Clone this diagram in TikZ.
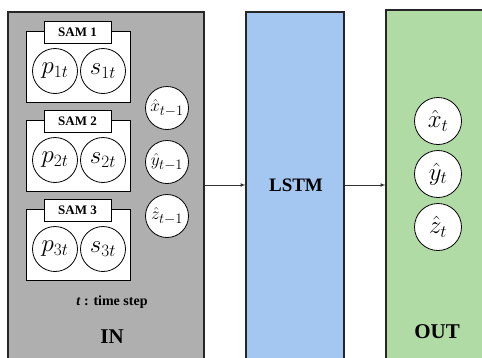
\documentclass[tikz,border=0pt]{standalone}
\usepackage{fontspec}
\setmainfont{Liberation Serif}
\usepackage{amsmath}
\usetikzlibrary{positioning}

\definecolor{ingray}{RGB}{175,175,175}
\definecolor{lstmblue}{RGB}{163,199,240}
\definecolor{outgreen}{RGB}{177,219,165}

\tikzset{
  block/.style={draw=black!85, line width=1.2pt, rectangle, inner sep=0pt},
  var/.style={draw, circle, fill=white, line width=0.8pt, inner sep=0pt, minimum size=45pt, font=\fontsize{26}{28}\selectfont},
  prev/.style={var, minimum size=43pt, font=\fontsize{19}{21}\selectfont},
  samtitle/.style={draw, fill=white, line width=0.8pt, minimum width=67pt, minimum height=22pt, inner sep=0pt, font=\fontsize{13}{15}\selectfont\bfseries},
  label/.style={font=\fontsize{21}{23}\selectfont\bfseries},
}

\begin{document}
\begin{tikzpicture}[x=1pt, y=-1pt]
    \newcommand{\drawsam}[1]{
        \begin{scope}[shift={(0,{(#1-1)*89})}]
            \node[draw, fill=white, line width=0.8pt, minimum width=104pt, minimum height=71pt] (sam#1) at (78,66.5) {};
            \node[samtitle] (sam#1title) at (77.5,32) {SAM #1};
            \node[var] (p#1) at (55,71) {$p_{#1t}$};
            \node[var] (s#1) at (103,71) {$s_{#1t}$};
        \end{scope}
    }
    \clip (0,0) rectangle (482,357);

    % the three stages, running out past the bottom edge
    \node[block, fill=ingray, minimum width=196pt, minimum height=380pt] (in) at (106,202) {};
    \node[block, fill=lstmblue, minimum width=98pt, minimum height=380pt] (lstm) at (295,202) {};
    \node[block, fill=outgreen, minimum width=110pt, minimum height=382pt] (out) at (441,201) {};

    % input side
    \drawsam{1}
    \drawsam{2}
    \drawsam{3}
    \node[prev] (xprev) at (167,108) {$\hat{x}_{t-1}$};
    \node[prev] (yprev) at (167,162) {$\hat{y}_{t-1}$};
    \node[prev] (zprev) at (167,216) {$\hat{z}_{t-1}$};
    \node[font=\fontsize{14}{16}\selectfont\bfseries] (tstep) at (112,302) {\textit{t} : time step};
    \node[label] (intext) at (112,337) {IN};

    % model
    \node[font=\fontsize{19}{21}\selectfont\bfseries] (lstmtext) at (296,185) {LSTM};

    % output side
    \node[var, minimum size=47pt] (xout) at (438,121) {$\hat{x}_t$};
    \node[var, minimum size=47pt] (yout) at (438,174) {$\hat{y}_t$};
    \node[var, minimum size=47pt] (zout) at (438,227) {$\hat{z}_t$};
    \node[label] (outtext) at (437,332) {OUT};

    \draw[->, >=latex, line width=0.7pt, black!80] (in.east |- lstmtext) -- (lstm.west |- lstmtext);
    \draw[->, >=latex, line width=0.7pt, black!80] (lstm.east |- lstmtext) -- (out.west |- lstmtext);
\end{tikzpicture}
\end{document}
